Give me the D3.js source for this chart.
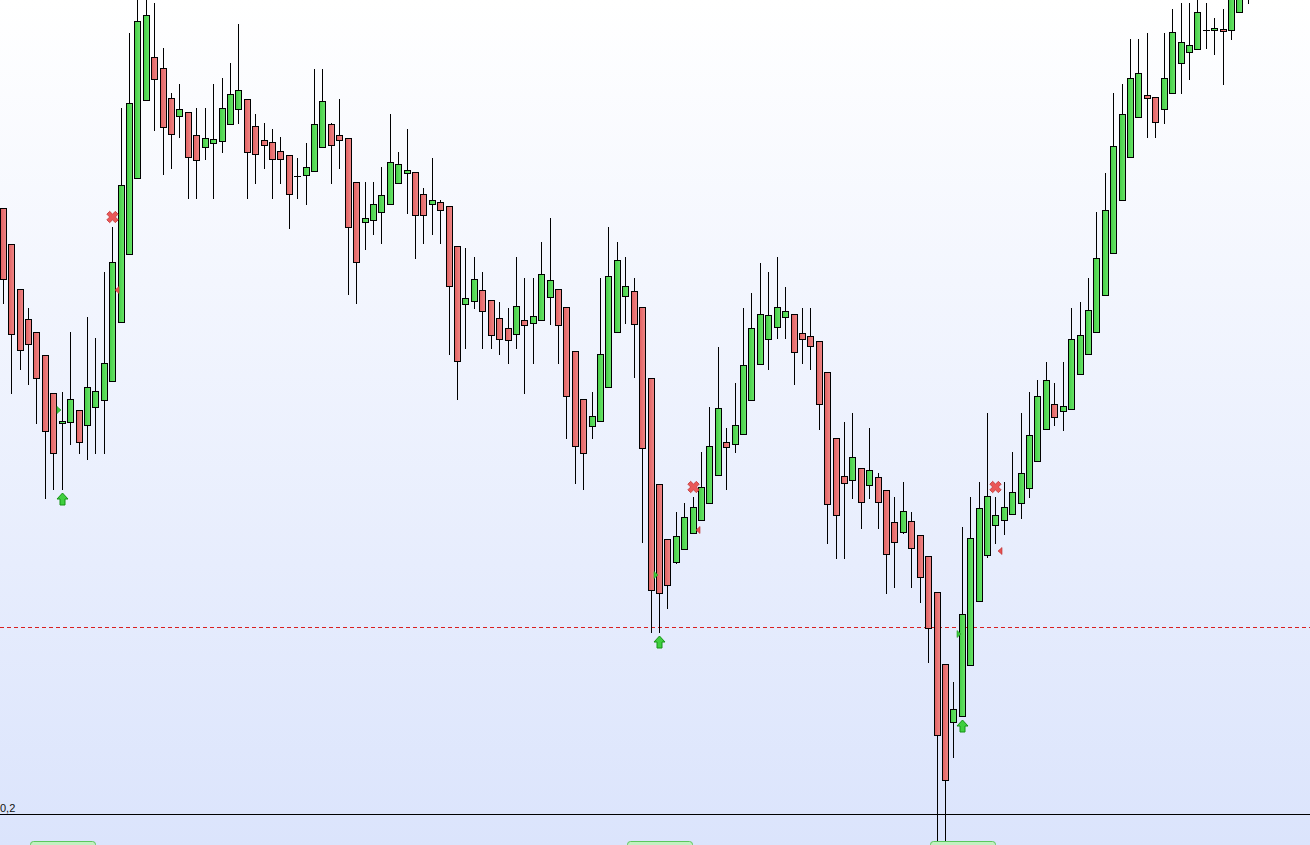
<!DOCTYPE html>
<html>
<head>
<meta charset="utf-8">
<script src="https://cdn.jsdelivr.net/npm/d3@7"></script>
<style>
  body { margin: 0; overflow: hidden; }
  svg { display: block; }
</style>
</head>
<body>
<div id="chart"></div>
<script>
var svgWidth = 1310;
var svgHeight = 845;

// OHLC, one entry per bar
var opens = [0.806,0.770,0.725,0.695,0.682,0.659,0.621,0.591,0.592,0.604,0.589,0.607,0.614,0.633,0.692,0.760,0.836,0.914,0.957,0.946,
  0.916,0.898,0.902,0.879,0.867,0.871,0.873,0.890,0.905,0.915,0.888,0.874,0.872,0.863,0.859,0.838,0.839,0.843,0.867,0.890,
  0.879,0.876,0.832,0.792,0.794,0.802,0.810,0.831,0.841,0.842,0.820,0.810,0.812,0.808,0.768,0.710,0.713,0.724,0.714,0.696,
  0.686,0.680,0.694,0.691,0.694,0.717,0.725,0.707,0.663,0.615,0.588,0.593,0.627,0.682,0.718,0.723,0.707,0.636,0.530,0.475,
  0.452,0.465,0.481,0.494,0.511,0.539,0.572,0.570,0.580,0.614,0.650,0.675,0.687,0.697,0.700,0.681,0.678,0.673,0.642,0.576,
  0.538,0.534,0.546,0.529,0.537,0.524,0.492,0.482,0.493,0.479,0.458,0.422,0.350,0.292,0.298,0.349,0.413,0.459,0.489,0.494,
  0.500,0.511,0.526,0.553,0.585,0.610,0.603,0.605,0.640,0.660,0.682,0.719,0.761,0.814,0.857,0.897,0.919,0.917,0.905,0.921,
  0.951,0.962,0.965,0.984,0.984,0.985,0.984,1.002,1.019];
var highs = [0.806,0.770,0.725,0.706,0.682,0.659,0.621,0.622,0.682,0.604,0.697,0.676,0.742,0.787,0.906,0.981,1.029,1.034,1.011,0.966,
  0.921,0.930,0.902,0.906,0.906,0.930,0.936,0.951,0.990,0.915,0.900,0.891,0.885,0.877,0.859,0.856,0.871,0.945,0.945,0.891,
  0.915,0.876,0.832,0.832,0.832,0.847,0.900,0.862,0.885,0.842,0.826,0.856,0.814,0.808,0.768,0.766,0.757,0.742,0.714,0.712,
  0.706,0.757,0.736,0.736,0.772,0.796,0.725,0.707,0.663,0.615,0.622,0.736,0.787,0.772,0.757,0.736,0.707,0.636,0.530,0.475,
  0.502,0.511,0.517,0.562,0.607,0.667,0.586,0.631,0.706,0.721,0.751,0.742,0.757,0.727,0.700,0.706,0.706,0.673,0.642,0.576,
  0.592,0.601,0.546,0.586,0.541,0.524,0.517,0.532,0.502,0.479,0.458,0.422,0.350,0.332,0.487,0.517,0.532,0.601,0.517,0.532,
  0.562,0.601,0.622,0.634,0.652,0.631,0.652,0.706,0.712,0.736,0.802,0.841,0.921,0.930,0.975,0.975,0.981,0.917,0.981,1.005,
  1.011,1.011,1.019,1.011,0.996,1.005,1.034,1.049,1.054];
var lows = [0.711,0.621,0.645,0.630,0.591,0.516,0.525,0.525,0.570,0.561,0.555,0.561,0.561,0.633,0.692,0.760,0.836,0.914,0.884,0.840,
  0.846,0.877,0.816,0.816,0.855,0.816,0.862,0.890,0.891,0.816,0.831,0.846,0.816,0.831,0.786,0.816,0.810,0.843,0.867,0.831,
  0.846,0.720,0.711,0.765,0.780,0.771,0.810,0.831,0.801,0.756,0.771,0.780,0.771,0.660,0.615,0.666,0.706,0.666,0.666,0.660,
  0.651,0.666,0.621,0.651,0.694,0.690,0.651,0.576,0.531,0.525,0.576,0.593,0.627,0.682,0.691,0.637,0.472,0.382,0.382,0.406,
  0.451,0.465,0.481,0.494,0.511,0.539,0.525,0.562,0.580,0.614,0.650,0.645,0.676,0.676,0.630,0.651,0.645,0.585,0.471,0.456,
  0.456,0.516,0.486,0.516,0.486,0.421,0.427,0.481,0.427,0.412,0.352,0.144,0.144,0.257,0.298,0.349,0.413,0.457,0.471,0.480,
  0.500,0.496,0.517,0.553,0.585,0.589,0.584,0.605,0.640,0.660,0.682,0.719,0.761,0.814,0.857,0.897,0.877,0.877,0.891,0.921,
  0.921,0.935,0.965,0.966,0.960,0.930,0.975,1.002,1.011];
var closes = [0.735,0.680,0.664,0.670,0.636,0.583,0.561,0.593,0.615,0.572,0.627,0.623,0.651,0.752,0.829,0.911,0.993,0.999,0.935,0.887,
  0.880,0.905,0.857,0.854,0.876,0.875,0.906,0.920,0.924,0.862,0.860,0.869,0.855,0.855,0.820,0.838,0.847,0.890,0.913,0.869,
  0.874,0.787,0.752,0.796,0.810,0.819,0.852,0.850,0.844,0.799,0.799,0.814,0.804,0.728,0.653,0.716,0.735,0.703,0.679,0.675,
  0.674,0.708,0.689,0.698,0.740,0.734,0.689,0.618,0.568,0.561,0.598,0.660,0.738,0.754,0.728,0.690,0.566,0.424,0.421,0.429,
  0.478,0.497,0.507,0.527,0.568,0.606,0.567,0.589,0.649,0.686,0.700,0.699,0.707,0.703,0.662,0.675,0.668,0.610,0.510,0.499,
  0.531,0.557,0.512,0.544,0.512,0.460,0.472,0.503,0.466,0.437,0.386,0.279,0.234,0.305,0.400,0.476,0.506,0.518,0.499,0.507,
  0.522,0.541,0.579,0.618,0.634,0.597,0.608,0.675,0.679,0.704,0.756,0.804,0.868,0.900,0.936,0.941,0.916,0.892,0.936,0.982,
  0.972,0.969,1.002,0.984,0.986,0.983,1.024,1.039,1.044];

// signal bars: buy (arrow up) and sell (cross)
var buyBars = [7, 78, 114];
var buyMarks = [0.604, 0.439, 0.380];
var sellBars = [13, 82, 118];
var sellMarks = [0.724, 0.484, 0.463];

// horizontal levels
var dashLevel = 0.387;
var baseLevel = 0.2;
var baseLabel = "0,2";

var bars = opens.map(function(o, i) {
  return { i: i, open: o, high: highs[i], low: lows[i], close: closes[i] };
});

var svg = d3.select("#chart")
  .append("svg")
  .attr("width", svgWidth)
  .attr("height", svgHeight);

var defs = svg.append("defs");

// background gradient
var bg = defs.append("linearGradient")
  .attr("id", "bg")
  .attr("x1", 0).attr("y1", 0).attr("x2", 0).attr("y2", 1);
bg.append("stop").attr("offset", "0%").attr("stop-color", "#ffffff");
bg.append("stop").attr("offset", "100%").attr("stop-color", "#dbe4fc");

// body gradients
function bodyGradient(id, c1, c2) {
  var g = defs.append("linearGradient")
    .attr("id", id)
    .attr("x1", 0).attr("y1", 0).attr("x2", 1).attr("y2", 0);
  g.append("stop").attr("offset", "0%").attr("stop-color", c1);
  g.append("stop").attr("offset", "100%").attr("stop-color", c2);
}
bodyGradient("upFill", "#45cc45", "#6ae66a");
bodyGradient("downFill", "#e06060", "#f08888");

svg.append("rect")
  .attr("width", svgWidth)
  .attr("height", svgHeight)
  .attr("fill", "url(#bg)");

// scales
var x = d3.scaleLinear()
  .domain([0, bars.length - 1])
  .range([3.3, 1248.3]);

var y = d3.scaleLinear()
  .domain([1.014, 0.169])
  .range([0, svgHeight]);

function cx(i) { return Math.floor(x(i)) + 0.5; }
function py(v) { return Math.round(y(v)); }

// dashed level
svg.append("line")
  .attr("x1", 0).attr("x2", svgWidth)
  .attr("y1", py(dashLevel) + 0.5).attr("y2", py(dashLevel) + 0.5)
  .attr("stroke", "#d82020")
  .attr("stroke-width", 1)
  .attr("stroke-dasharray", "4,3");

// base level line and its label
svg.append("line")
  .attr("x1", 0).attr("x2", svgWidth)
  .attr("y1", py(baseLevel) + 0.5).attr("y2", py(baseLevel) + 0.5)
  .attr("stroke", "#000")
  .attr("stroke-width", 1);

svg.append("text")
  .attr("x", 0)
  .attr("y", py(baseLevel) - 2)
  .attr("font-family", "'Liberation Sans', Arial, sans-serif")
  .attr("font-size", 11)
  .attr("fill", "#111")
  .text(baseLabel);

var candles = svg.append("g");

// wicks
candles.selectAll("line.wick")
  .data(bars)
  .enter()
  .append("line")
  .attr("class", "wick")
  .attr("x1", d => cx(d.i))
  .attr("x2", d => cx(d.i))
  .attr("y1", d => py(d.high))
  .attr("y2", d => py(d.low) + 1)
  .attr("stroke", "#000")
  .attr("stroke-width", 1);

// bodies
var solid = bars.filter(d => d.open !== d.close);
var flat = bars.filter(d => d.open === d.close);

candles.selectAll("rect.body")
  .data(solid)
  .enter()
  .append("rect")
  .attr("class", "body")
  .attr("x", d => Math.floor(x(d.i)) - 2.5)
  .attr("y", d => py(Math.max(d.open, d.close)) + 0.5)
  .attr("width", 6)
  .attr("height", d => Math.max(1, py(Math.min(d.open, d.close)) - py(Math.max(d.open, d.close))))
  .attr("fill", d => d.close > d.open ? "url(#upFill)" : "url(#downFill)")
  .attr("stroke", "#000")
  .attr("stroke-width", 1);

candles.selectAll("line.flat")
  .data(flat)
  .enter()
  .append("line")
  .attr("class", "flat")
  .attr("x1", d => Math.floor(x(d.i)) - 3)
  .attr("x2", d => Math.floor(x(d.i)) + 4)
  .attr("y1", d => py(d.open) + 0.5)
  .attr("y2", d => py(d.open) + 0.5)
  .attr("stroke", "#000")
  .attr("stroke-width", 1);

// small level triangles
var marks = svg.append("g");

buyBars.forEach(function(b, k) {
  var mx = Math.floor(x(b));
  var my = py(buyMarks[k]);
  marks.append("path")
    .attr("d", `M${mx - 5},${my - 3.5} L${mx - 1},${my} L${mx - 5},${my + 3.5} Z`)
    .attr("fill", "#3cc83c")
    .attr("stroke", "#1f9a1f")
    .attr("stroke-width", 0.6);
});

sellBars.forEach(function(b, k) {
  var mx = Math.floor(x(b));
  var my = py(sellMarks[k]);
  marks.append("path")
    .attr("d", `M${mx + 7},${my - 3.5} L${mx + 3},${my} L${mx + 7},${my + 3.5} Z`)
    .attr("fill", "#e85050")
    .attr("stroke", "#b82a2a")
    .attr("stroke-width", 0.6);
});

// buy arrows under the low
buyBars.forEach(function(b) {
  var ax = cx(b);
  var ay = py(lows[b]) + 4;
  marks.append("path")
    .attr("d", `M${ax},${ay} L${ax + 5.5},${ay + 6} L${ax + 2.5},${ay + 6} L${ax + 2.5},${ay + 12} L${ax - 2.5},${ay + 12} L${ax - 2.5},${ay + 6} L${ax - 5.5},${ay + 6} Z`)
    .attr("fill", "#3fcf3f")
    .attr("stroke", "#159315")
    .attr("stroke-width", 1);
});

// sell crosses above the high
var crossPath = d3.symbol().type(d3.symbolCross).size(80);
sellBars.forEach(function(b) {
  marks.append("path")
    .attr("d", crossPath())
    .attr("transform", `translate(${cx(b)}, ${py(highs[b]) - 10}) rotate(45)`)
    .attr("fill", "#ea5858")
    .attr("stroke", "#c43a3a")
    .attr("stroke-width", 0.8);
});

// time boxes at the bottom edge
svg.append("g")
  .selectAll("rect")
  .data(buyBars)
  .enter()
  .append("rect")
  .attr("x", d => cx(d) - 32)
  .attr("y", 841.5)
  .attr("width", 65)
  .attr("height", 20)
  .attr("rx", 3)
  .attr("fill", "#c2f0c2")
  .attr("stroke", "#5cc85c")
  .attr("stroke-width", 1);
</script>
</body>
</html>
